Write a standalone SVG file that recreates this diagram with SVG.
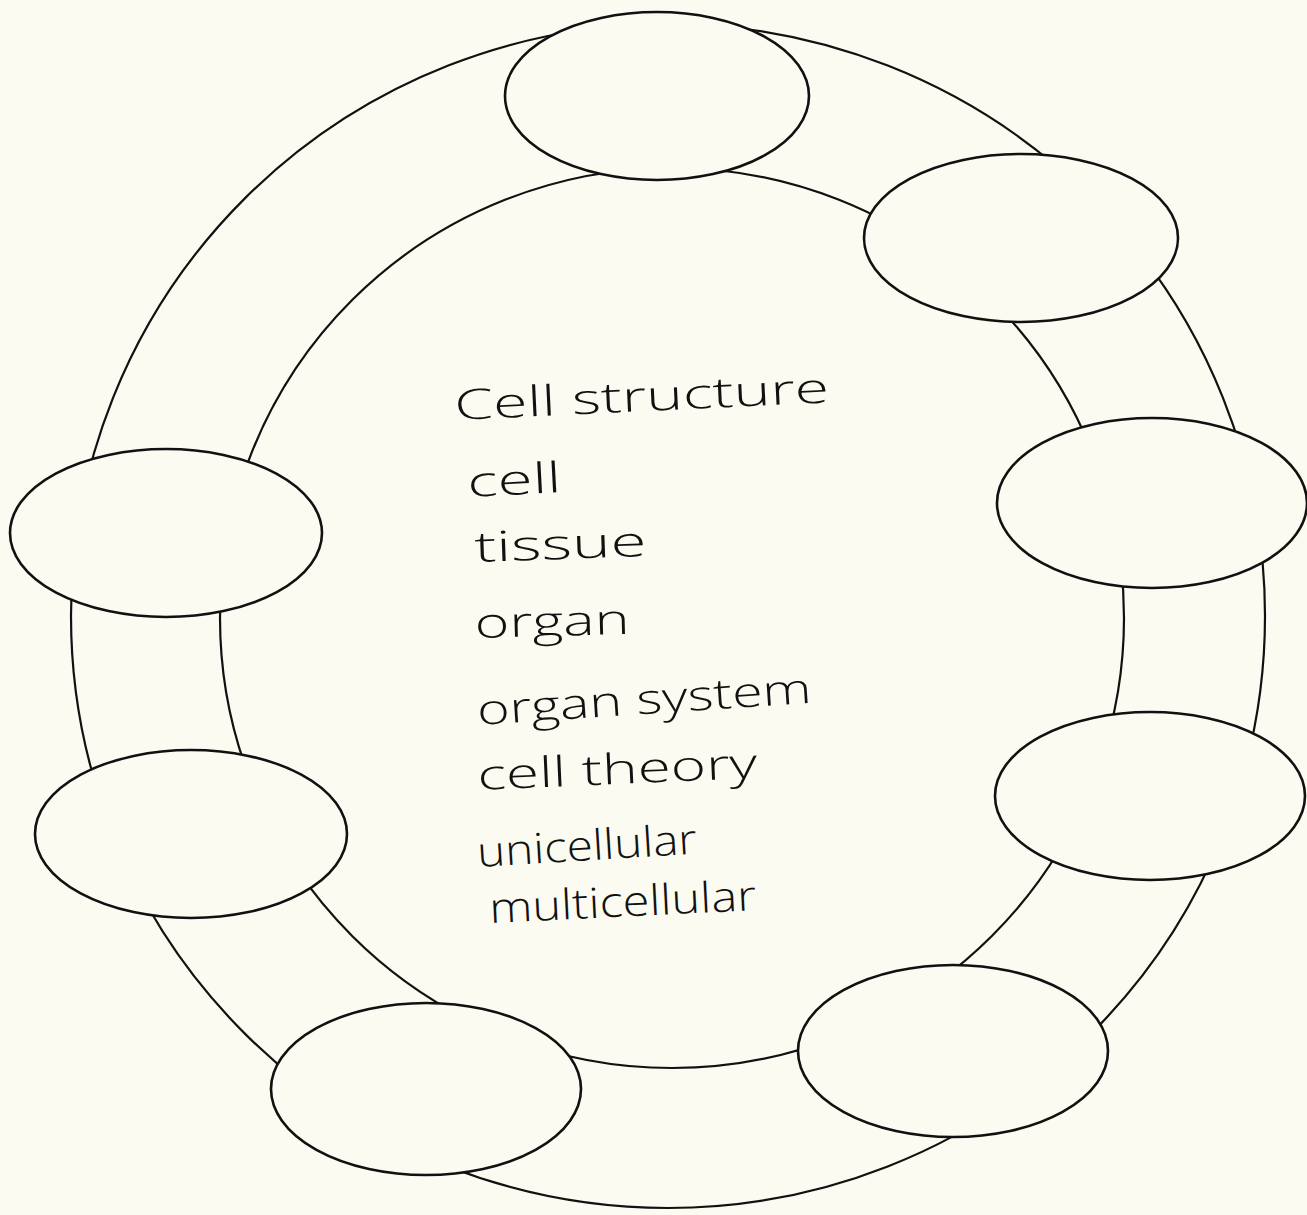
<svg xmlns="http://www.w3.org/2000/svg" width="1307" height="1215" viewBox="0 0 1307 1215">
<style>
.ring{fill:none;stroke:#111;stroke-width:2.2}
.node{fill:#fbfbf2;stroke:#111;stroke-width:2.6}
.word{font-family:"Open Sans","DejaVu Sans",sans-serif;font-weight:300;font-size:42px;fill:#111}
</style>
<rect width="1307" height="1215" fill="#fbfbf2"/>
<g id="connectors">
<ellipse class="ring" cx="668" cy="616" rx="597" ry="592"/>
<ellipse class="ring" cx="672" cy="618" rx="452" ry="450"/>
</g>
<g id="node-top"><ellipse class="node" cx="657" cy="96" rx="152" ry="84"/></g>
<g id="node-upper-right"><ellipse class="node" cx="1021" cy="238" rx="157" ry="84"/></g>
<g id="node-right"><ellipse class="node" cx="1152" cy="503" rx="155" ry="85"/></g>
<g id="node-lower-right"><ellipse class="node" cx="1150" cy="796" rx="155" ry="84"/></g>
<g id="node-bottom-right"><ellipse class="node" cx="953" cy="1051" rx="155" ry="86"/></g>
<g id="node-bottom"><ellipse class="node" cx="426" cy="1089" rx="155" ry="86"/></g>
<g id="node-left-lower"><ellipse class="node" cx="191" cy="834" rx="156" ry="84"/></g>
<g id="node-left-upper"><ellipse class="node" cx="166" cy="533" rx="156" ry="84"/></g>
<g id="word-list">
<text class="word" x="455" y="420" textLength="375" lengthAdjust="spacingAndGlyphs" transform="rotate(-2.7 455 420)">Cell structure</text>
<text class="word" x="468" y="497" textLength="94" lengthAdjust="spacingAndGlyphs" transform="rotate(-3 468 497)">cell</text>
<text class="word" x="475" y="562" textLength="172" lengthAdjust="spacingAndGlyphs" transform="rotate(-2 475 562)">tissue</text>
<text class="word" x="475" y="638" textLength="155" lengthAdjust="spacingAndGlyphs" transform="rotate(-1.5 475 638)">organ</text>
<text class="word" x="478" y="725" textLength="335" lengthAdjust="spacingAndGlyphs" transform="rotate(-3.8 478 725)">organ system</text>
<text class="word" x="478" y="790" textLength="280" lengthAdjust="spacingAndGlyphs" transform="rotate(-2.5 478 790)">cell theory</text>
<text class="word" x="478" y="867" textLength="220" lengthAdjust="spacingAndGlyphs" transform="rotate(-3.5 478 867)">unicellular</text>
<text class="word" x="490" y="923" textLength="267" lengthAdjust="spacingAndGlyphs" transform="rotate(-2.8 490 923)">multicellular</text>
</g>
</svg>
